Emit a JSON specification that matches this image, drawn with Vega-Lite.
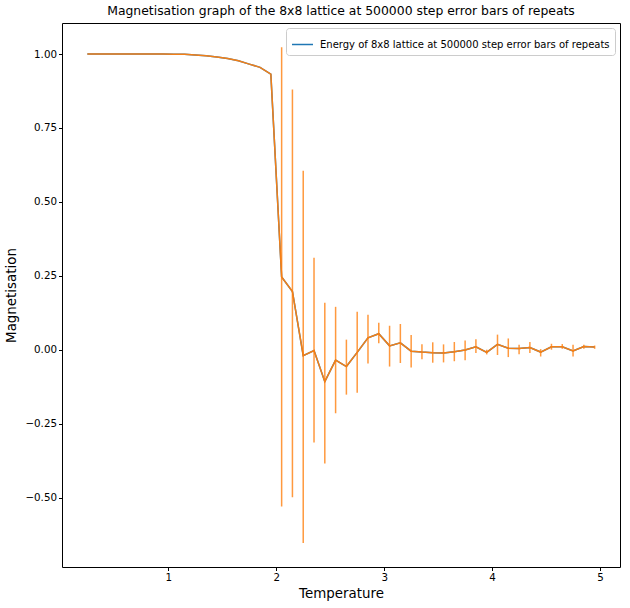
{
  "$schema": "https://vega.github.io/schema/vega-lite/v6.json",
  "autosize": {"type": "none"},
  "padding": {"left": 62, "top": 23, "right": 10, "bottom": 41},
  "width": 558,
  "height": 544,
  "background": "white",
  "title": {
    "text": "Magnetisation graph of the 8x8 lattice at 500000 step error bars of repeats",
    "font": "DejaVu Sans",
    "fontSize": 12.4,
    "fontWeight": "normal",
    "color": "black",
    "offset": 6
  },
  "config": {
    "view": {"stroke": "black", "strokeWidth": 1},
    "axis": {
      "grid": false,
      "domain": false,
      "tickColor": "black",
      "tickSize": 3.5,
      "labelFont": "DejaVu Sans",
      "labelFontSize": 10.3,
      "labelColor": "black",
      "titleFont": "DejaVu Sans",
      "titleFontSize": 13.4,
      "titleFontWeight": "normal",
      "titleColor": "black"
    }
  },
  "data": {
    "values": [
      {"T": 0.25, "M": 1.0, "lo": 1.0, "hi": 1.0},
      {"T": 0.35, "M": 1.0, "lo": 1.0, "hi": 1.0},
      {"T": 0.45, "M": 1.0, "lo": 1.0, "hi": 1.0},
      {"T": 0.55, "M": 1.0, "lo": 1.0, "hi": 1.0},
      {"T": 0.65, "M": 1.0, "lo": 1.0, "hi": 1.0},
      {"T": 0.75, "M": 1.0, "lo": 1.0, "hi": 1.0},
      {"T": 0.85, "M": 1.0, "lo": 1.0, "hi": 1.0},
      {"T": 0.95, "M": 1.0, "lo": 1.0, "hi": 1.0},
      {"T": 1.05, "M": 0.9995, "lo": 0.9995, "hi": 0.9995},
      {"T": 1.15, "M": 0.999, "lo": 0.999, "hi": 0.999},
      {"T": 1.25, "M": 0.997, "lo": 0.997, "hi": 0.997},
      {"T": 1.35, "M": 0.994, "lo": 0.994, "hi": 0.994},
      {"T": 1.45, "M": 0.99, "lo": 0.99, "hi": 0.99},
      {"T": 1.55, "M": 0.985, "lo": 0.985, "hi": 0.985},
      {"T": 1.65, "M": 0.977, "lo": 0.977, "hi": 0.977},
      {"T": 1.75, "M": 0.966, "lo": 0.966, "hi": 0.966},
      {"T": 1.85, "M": 0.955, "lo": 0.955, "hi": 0.955},
      {"T": 1.95, "M": 0.932, "lo": 0.932, "hi": 0.932},
      {"T": 2.05, "M": 0.246, "lo": -0.53, "hi": 1.023},
      {"T": 2.15, "M": 0.197, "lo": -0.499, "hi": 0.88},
      {"T": 2.25, "M": -0.02, "lo": -0.654, "hi": 0.605},
      {"T": 2.35, "M": -0.003, "lo": -0.314, "hi": 0.311},
      {"T": 2.45, "M": -0.108, "lo": -0.385, "hi": 0.159},
      {"T": 2.55, "M": -0.035, "lo": -0.215, "hi": 0.145},
      {"T": 2.65, "M": -0.057, "lo": -0.152, "hi": 0.034},
      {"T": 2.75, "M": -0.009, "lo": -0.146, "hi": 0.128},
      {"T": 2.85, "M": 0.04, "lo": -0.047, "hi": 0.118},
      {"T": 2.95, "M": 0.054, "lo": 0.022, "hi": 0.091},
      {"T": 3.05, "M": 0.013, "lo": -0.057, "hi": 0.081},
      {"T": 3.15, "M": 0.023, "lo": -0.045, "hi": 0.087},
      {"T": 3.25, "M": -0.005, "lo": -0.06, "hi": 0.05},
      {"T": 3.35, "M": -0.008, "lo": -0.032, "hi": 0.018},
      {"T": 3.45, "M": -0.01, "lo": -0.044, "hi": 0.025},
      {"T": 3.55, "M": -0.011, "lo": -0.043, "hi": 0.018},
      {"T": 3.65, "M": -0.007, "lo": -0.039, "hi": 0.026},
      {"T": 3.75, "M": -0.001, "lo": -0.036, "hi": 0.031},
      {"T": 3.85, "M": 0.01, "lo": -0.011, "hi": 0.035},
      {"T": 3.95, "M": -0.009, "lo": -0.016, "hi": 0.0},
      {"T": 4.05, "M": 0.018, "lo": -0.018, "hi": 0.051},
      {"T": 4.15, "M": 0.005, "lo": -0.025, "hi": 0.038},
      {"T": 4.25, "M": 0.004, "lo": -0.015, "hi": 0.017},
      {"T": 4.35, "M": 0.007, "lo": -0.011, "hi": 0.026},
      {"T": 4.45, "M": -0.008, "lo": -0.023, "hi": 0.002},
      {"T": 4.55, "M": 0.01, "lo": 0.0, "hi": 0.02},
      {"T": 4.65, "M": 0.01, "lo": 0.003, "hi": 0.019},
      {"T": 4.75, "M": -0.004, "lo": -0.023, "hi": 0.017},
      {"T": 4.85, "M": 0.011, "lo": 0.003, "hi": 0.017},
      {"T": 4.95, "M": 0.009, "lo": 0.003, "hi": 0.014}
    ]
  },
  "encoding": {
    "x": {
      "field": "T",
      "type": "quantitative",
      "title": "Temperature",
      "scale": {"domain": [0.015, 5.185], "nice": false, "zero": false},
      "axis": {"values": [1, 2, 3, 4, 5], "format": "d", "titlePadding": 4}
    },
    "y": {
      "field": "M",
      "type": "quantitative",
      "title": "Magnetisation",
      "scale": {"domain": [-0.735, 1.105], "nice": false, "zero": false},
      "axis": {"values": [-0.5, -0.25, 0, 0.25, 0.5, 0.75, 1.0], "format": ".2f", "titlePadding": 6}
    }
  },
  "layer": [
    {
      "mark": {"type": "line", "strokeWidth": 1.5},
      "encoding": {
        "color": {
          "datum": "Energy of 8x8 lattice at 500000 step error bars of repeats",
          "type": "nominal",
          "scale": {"range": ["#1f77b4"]},
          "legend": {
            "title": null,
            "orient": "top-right",
            "offset": 5,
            "symbolType": "stroke",
            "symbolStrokeWidth": 1.5,
            "symbolSize": 440,
            "labelFont": "DejaVu Sans",
            "labelFontSize": 10,
            "labelColor": "black",
            "labelLimit": 0,
            "labelOffset": 6,
            "strokeColor": "#cccccc",
            "fillColor": "white",
            "padding": 5,
            "cornerRadius": 3
          }
        }
      }
    },
    {
      "mark": {"type": "line", "color": "#ff7f0e", "opacity": 0.95, "strokeWidth": 1.5}
    },
    {
      "mark": {"type": "rule", "color": "#ff7f0e", "opacity": 0.8, "strokeWidth": 1.5},
      "encoding": {
        "y": {"field": "lo", "type": "quantitative"},
        "y2": {"field": "hi"}
      }
    }
  ]
}
